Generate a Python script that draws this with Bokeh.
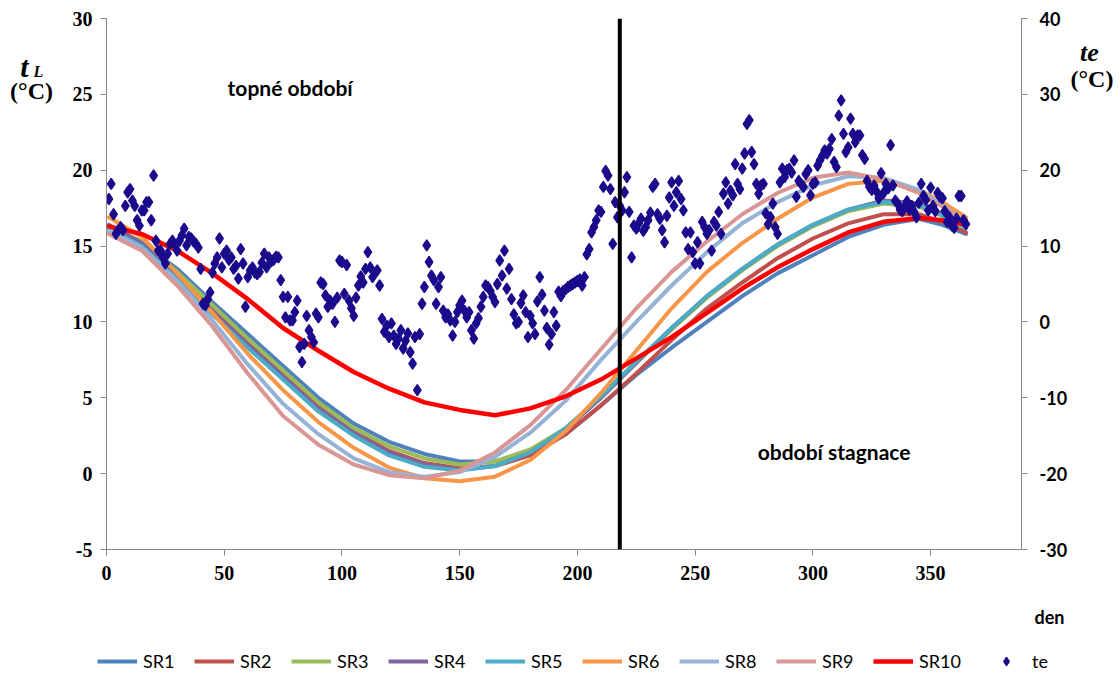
from bokeh.plotting import figure
from bokeh.layouts import row, column
from bokeh.models import Range1d, LinearAxis, Span, Label, Legend, LegendItem, FixedTicker
from bokeh.embed import file_html
from bokeh.resources import INLINE

# ---------------- data ----------------
curve_days = [1, 15, 30, 45, 60, 75, 90, 105, 120, 135, 150, 165, 180, 195, 210,
              225, 240, 255, 270, 285, 300, 315, 330, 345, 355, 365]

sr1 = [16.0, 15.2, 13.5, 11.3, 9.2, 7.1, 5.0, 3.3, 2.1, 1.3, 0.8, 0.8, 1.4, 2.6, 4.5,
       6.5, 8.3, 10.0, 11.7, 13.2, 14.4, 15.6, 16.4, 16.8, 16.4, 15.8]
sr2 = [16.2, 15.1, 13.0, 10.8, 8.7, 6.6, 4.4, 2.8, 1.5, 0.7, 0.35, 0.5, 1.2, 2.6, 4.5,
       6.6, 8.8, 10.9, 12.6, 14.2, 15.5, 16.5, 17.1, 17.1, 16.6, 15.9]
sr3 = [16.3, 15.3, 13.3, 11.1, 8.9, 6.8, 4.7, 3.0, 1.8, 1.0, 0.6, 0.8, 1.6, 3.0, 5.0,
       7.3, 9.5, 11.6, 13.4, 15.0, 16.3, 17.3, 17.8, 17.6, 17.0, 16.3]
sr4 = [16.4, 15.2, 13.0, 10.7, 8.5, 6.4, 4.3, 2.7, 1.4, 0.6, 0.25, 0.5, 1.4, 2.9, 5.0,
       7.3, 9.6, 11.7, 13.5, 15.1, 16.4, 17.4, 18.0, 17.8, 17.1, 16.2]
sr5 = [16.1, 15.0, 12.8, 10.5, 8.3, 6.2, 4.1, 2.5, 1.2, 0.45, 0.2, 0.5, 1.4, 3.0, 5.1,
       7.4, 9.6, 11.7, 13.5, 15.1, 16.4, 17.4, 17.9, 17.7, 17.0, 16.2]
sr6 = [16.9, 15.6, 13.2, 10.6, 7.9, 5.5, 3.4, 1.7, 0.4, -0.3, -0.5, -0.2, 0.9, 2.8, 5.3,
       8.1, 10.9, 13.3, 15.2, 16.8, 18.2, 19.1, 19.3, 18.7, 17.9, 16.9]
sr8 = [16.0, 14.9, 12.7, 10.1, 7.2, 4.6, 2.6, 1.0, 0.1, -0.2, 0.1, 1.1, 2.7, 4.8, 7.5,
       10.0, 12.4, 14.6, 16.5, 17.9, 19.0, 19.6, 19.5, 18.7, 17.7, 16.6]
sr9 = [15.8, 14.7, 12.4, 9.7, 6.6, 3.8, 1.9, 0.6, -0.1, -0.3, 0.2, 1.4, 3.2, 5.5, 8.2,
       10.9, 13.3, 15.3, 17.1, 18.5, 19.5, 19.85, 19.4, 18.5, 17.6, 16.7]
sr10 = [16.3, 15.8, 14.7, 13.2, 11.5, 9.6, 8.1, 6.7, 5.6, 4.7, 4.2, 3.85, 4.3, 5.1, 6.2,
        7.6, 9.0, 10.6, 12.2, 13.6, 14.8, 15.9, 16.6, 16.85, 16.7, 16.4]

series_names = ["SR1", "SR2", "SR3", "SR4", "SR5", "SR6", "SR8", "SR9", "SR10"]

te_values = [
    16.2, 18.2, 14.2, 11.6, 12.1, 12.5, 12.1, 15.3, 17.1, 17.5,
    16.0, 15.3, 13.4, 12.7, 14.7, 14.7, 15.8, 15.8, 13.4, 19.3,
    10.7, 9.4, 9.4, 8.5, 7.7, 9.0, 10.3, 10.7, 10.2, 9.4,
    10.7, 11.4, 12.3, 10.1, 11.2, 11.0, 10.6, 10.3, 9.8, 7.0,
    2.4, 2.2, 3.0, 3.9, 6.5, 7.7, 8.5, 11.0, 7.2, 9.0,
    9.4, 8.2, 8.5, 7.0, 7.4, 5.7, 9.6, 7.7, 2.0, 5.9,
    6.8, 7.2, 6.5, 6.3, 6.6, 7.8, 9.0, 7.2, 8.5, 8.0,
    8.2, 8.6, 8.5, 5.5, 3.3, 0.6, 3.3, 0.2, 0.2, 1.3,
    2.8, -3.3, -5.3, -2.9, 0.8, -1.1, -2.0, -2.7, 1.1, 0.6,
    5.2, 5.0, 3.5, 2.0, 2.8, 2.4, 0.0, 3.2, 8.1, 7.9,
    3.7, 7.5, 2.8, 1.8, 0.8, 3.2, 4.8, 6.0, 5.2, 7.0,
    9.2, 7.2, 5.9, 6.4, 6.8, 4.8, 0.4, -1.3, -0.5, -2.0,
    -0.2, -1.8, -2.9, -2.2, -1.1, -3.5, -2.5, -1.5, -4.0, -5.5,
    -2.0, -9.0, -1.6, 2.4, 4.6, 10.1, 7.9, 6.1, 5.5, 2.4,
    4.6, 5.9, 1.5, 0.6, 1.0, 0.2, -1.8, 0.0, 1.3, 2.2,
    2.8, 1.5, 0.6, 1.3, -1.1, -2.2, -0.2, 0.5, 2.0, 3.3,
    4.8, 4.6, 4.1, 3.3, 2.6, 5.0, 8.1, 6.1, 9.4, 4.4,
    7.0, 3.0, 1.0, -0.2, 0.0, 2.5, 3.5, 1.3, -2.0, 0.8,
    -0.2, -1.6, 2.7, 5.9, 3.6, 1.5, -0.8, -3.0, -1.6, 1.3,
    -0.5, 4.0, 3.4, 4.1, 4.3, 4.6, 4.8, 5.0, 5.2, 5.4,
    5.6, 4.8, 5.9, 8.9, 9.6, 11.8, 12.5, 13.4, 14.7, 14.5,
    17.8, 19.9, 19.3, 17.5, 10.3, 15.8, 13.8, 15.3, 14.7, 17.1,
    19.1, 14.5, 8.5, 12.7, 12.3, 13.0, 13.6, 12.0, 12.5, 13.4,
    14.4, 17.8, 18.2, 14.2, 13.6, 12.1, 10.5, 14.0, 16.4, 18.4,
    15.3, 17.1, 18.6, 16.2, 14.7, 11.8, 9.6, 11.8, 9.2, 7.7,
    10.5, 7.7, 13.2, 12.5, 11.6, 12.1, 9.4, 13.2, 12.7, 14.5,
    11.6, 16.9, 18.4, 15.6, 17.3, 16.7, 20.8, 18.2, 17.5, 20.2,
    22.2, 26.1, 26.6, 22.4, 20.8, 18.2, 16.9, 18.0, 18.2, 14.3,
    12.9, 13.8, 15.6, 12.5, 11.6, 18.4, 20.2, 19.1, 20.0, 20.2,
    19.7, 21.3, 16.5, 18.6, 18.2, 17.8, 19.5, 20.0, 16.7, 18.2,
    18.4, 20.6, 21.3, 21.9, 22.6, 22.2, 22.8, 24.1, 21.1, 20.4,
    27.2, 29.2, 24.8, 22.4, 23.0, 26.8, 24.8, 23.7, 24.6, 24.6,
    22.0, 21.5, 18.6, 17.8, 17.4, 18.0, 17.2, 16.3, 19.6, 17.0,
    18.2, 17.6, 23.3, 18.0, 16.0, 15.6, 14.8, 14.6, 15.2, 15.9,
    14.8, 15.3, 14.5, 13.8, 15.7, 18.2, 16.6, 16.1, 14.7, 17.7,
    15.3, 14.6, 17.0, 16.5, 16.3, 14.6, 13.2, 13.8, 12.7, 12.4,
    13.6, 16.6, 16.6, 13.4, 12.9,
]
te_days = list(range(1, len(te_values) + 1))

boundary_day = 218
x_ticks = [0, 50, 100, 150, 200, 250, 300, 350]
left_ticks = [-5, 0, 5, 10, 15, 20, 25, 30]
right_ticks = [-30, -20, -10, 0, 10, 20, 30, 40]

# ---------------- styles ----------------
colors = ["#4F81BD", "#C0504D", "#9BBB59", "#8064A2", "#4BACC6",
          "#F79646", "#95B3D7", "#D99694", "#FF0000"]
marker_color = "#1C0A8C"
axis_gray = "#868686"
serif = "Liberation Serif"
sans = "Lato"

TOP_H = 595
LEFT_W = 60
RIGHT_W = 50
MAIN_W = 1120 - LEFT_W - RIGHT_W
BOTTOM_H = 675 - TOP_H


def blank(width, height, xr, yr):
    f = figure(width=width, height=height, output_backend="svg", toolbar_location=None,
               x_range=Range1d(*xr), y_range=Range1d(*yr), x_axis_type=None,
               y_axis_type=None, min_border=0)
    f.grid.visible = False
    f.outline_line_color = None
    return f


def lab(fig, text, x, y, font, size, style="bold", align="center", baseline="middle"):
    fig.add_layout(Label(x=x, y=y, text=text, text_font=font, text_font_size=size,
                         text_font_style=style, text_align=align,
                         text_baseline=baseline, text_color="black"))


def line_width(name):
    return 4.5 if name == "SR10" else 4


# ---------------- main plot ----------------
p = figure(width=MAIN_W, height=TOP_H, output_backend="svg", toolbar_location=None,
           x_range=Range1d(0, 388.6), y_range=Range1d(-5, 30),
           min_border_left=46, min_border_right=47, min_border_top=18,
           min_border_bottom=46)
p.extra_y_ranges = {"te": Range1d(-30, 40)}
p.grid.visible = False
p.outline_line_color = None

for ax in (p.xaxis[0], p.yaxis[0]):
    ax.axis_line_color = axis_gray
    ax.major_tick_line_color = axis_gray
    ax.minor_tick_line_color = None
    ax.major_tick_out = 6
    ax.major_tick_in = 0
    ax.major_label_text_font = serif
    ax.major_label_text_font_style = "bold"
    ax.major_label_text_font_size = "20px"
    ax.major_label_text_color = "black"
p.xaxis.ticker = FixedTicker(ticks=x_ticks)
p.yaxis.ticker = FixedTicker(ticks=left_ticks)
p.yaxis.major_label_overrides = {t: str(t) for t in left_ticks}
p.xaxis.major_label_standoff = 10
p.yaxis.major_label_standoff = 8

rax = LinearAxis(y_range_name="te", ticker=FixedTicker(ticks=right_ticks))
rax.axis_line_color = axis_gray
rax.major_tick_line_color = axis_gray
rax.minor_tick_line_color = None
rax.major_tick_out = 6
rax.major_tick_in = 0
rax.major_label_text_font = sans
rax.major_label_text_font_style = "bold"
rax.major_label_text_font_size = "18px"
rax.major_label_text_color = "black"
rax.major_label_standoff = 12
rax.major_label_overrides = {t: str(t) for t in right_ticks}
p.add_layout(rax, "right")

series = [sr1, sr2, sr3, sr4, sr5, sr6, sr8, sr9, sr10]
for name, vals, col in zip(series_names, series, colors):
    p.line(curve_days, vals, line_color=col, line_width=line_width(name),
           line_join="round", line_cap="round")

p.add_layout(Span(location=boundary_day, dimension="height", line_color="black",
                  line_width=4))

p.scatter(te_days, te_values, y_range_name="te", marker="diamond", size=11,
          fill_color=marker_color, line_color=marker_color, line_width=1.5)

lab(p, "topné období", 78, 25.45, sans, "21px")
lab(p, "období stagnace", 309, 1.46, sans, "21px")

# ---------------- left titles (page pixel coordinates) ----------------
left_fig = blank(LEFT_W, TOP_H, (0, LEFT_W), (TOP_H, 0))
lab(left_fig, "t", 24, 54, serif, "30px", style="bold italic")
lab(left_fig, "L", 38, 59, serif, "16px", style="bold italic")
lab(left_fig, "(°C)", 31, 81, serif, "24px")

# ---------------- right titles ----------------
right_fig = blank(RIGHT_W, TOP_H, (1120 - RIGHT_W, 1120), (TOP_H, 0))
lab(right_fig, "te", 1089, 38, serif, "26px", style="bold italic")
lab(right_fig, "(°C)", 1070, 68, serif, "24px", align="left")

# ---------------- bottom: axis name + legend ----------------
bottom_fig = blank(1120, BOTTOM_H, (0, 1120), (675, TOP_H))
lab(bottom_fig, "den", 1049, 616, sans, "18px")

# legend keys: the same series drawn in the legend strip fall outside its range,
# so only their legend glyphs are visible
items = []
for name, vals, col in zip(series_names, series, colors):
    r = bottom_fig.line(curve_days, vals, line_color=col, line_width=line_width(name))
    items.append(LegendItem(label=name, renderers=[r]))
rs = bottom_fig.scatter(te_days, te_values, marker="diamond", size=10,
                        fill_color=marker_color, line_color=marker_color, line_width=1.5)

common = dict(orientation="horizontal", glyph_width=40, glyph_height=20,
              label_width=45, label_height=20, label_standoff=6, spacing=6,
              padding=0, margin=0, label_text_font=sans, label_text_font_size="18px",
              label_text_color="black", border_line_color=None,
              background_fill_alpha=0)
bottom_fig.add_layout(Legend(items=items, location=(97, 3), **common), "center")
bottom_fig.add_layout(Legend(items=[LegendItem(label="te", renderers=[rs])],
                             location=(986, 3), **common), "center")

layout = column(row(left_fig, p, right_fig), bottom_fig)
open("out.html", "w").write(file_html(layout, INLINE))
